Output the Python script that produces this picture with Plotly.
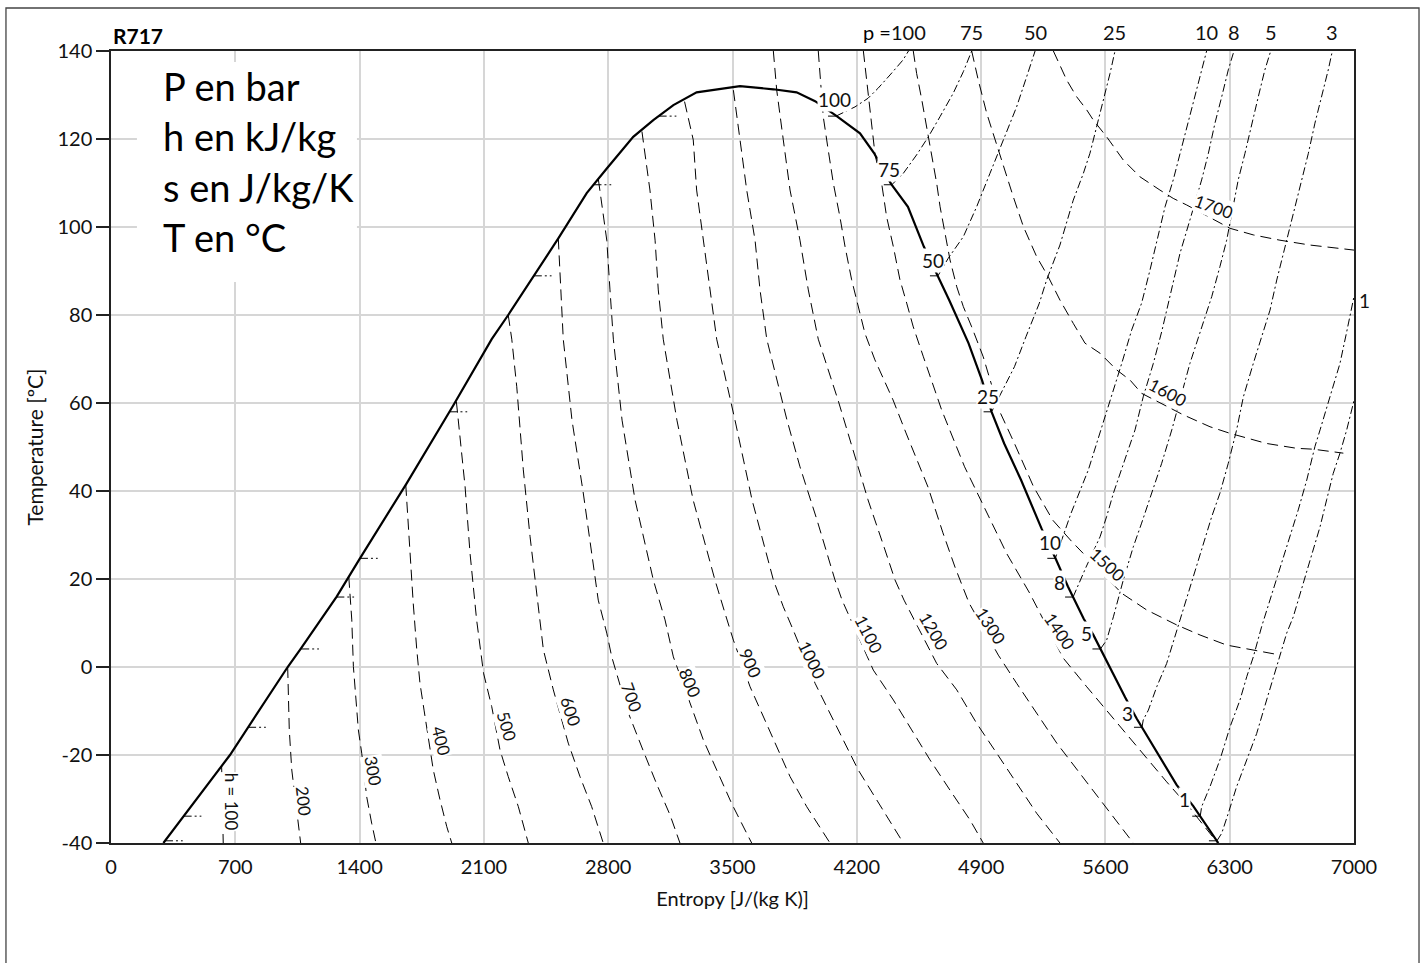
import plotly.graph_objects as go

# ---------------- data (s in J/(kg K), T in °C) ----------------
SAT_LIQ_S = [295, 670, 995, 1070, 1271, 1402, 1665, 1928, 2144, 2237, 2519, 2679, 2792, 2941, 3054, 3167, 3298, 3542]
SAT_LIQ_T = [-40, -20, 0, 4.25, 16.0, 24.7, 41.75, 59.5, 74.5, 80, 97.4, 107.7, 113.3, 120.5, 124.3, 127.7, 130.6, 132.0]
SAT_VAP_S = [3542, 3730, 3861, 3965, 4083, 4218, 4297, 4393, 4488, 4578, 4657, 4720, 4829, 4905, 4959, 5030, 5125,
             5240, 5320, 5389, 5477, 5532, 5711, 5776, 6001, 6095, 6236]
SAT_VAP_T = [132.0, 131.3, 130.6, 128.6, 125.3, 121.3, 116.8, 109.8, 104.6, 95.5, 88.9, 83.4, 73.6, 65.2, 58.0, 50.8, 42.5,
             31.5, 24.6, 18.3, 11.0, 7.3, -6.9, -11.7, -26.8, -31.6, -40]

# isenthalps, h in kJ/kg
H_VALUES = [100, 200, 300, 400, 500, 600, 700, 800, 900, 1000, 1100, 1200, 1300, 1400, 1500, 1600, 1700]
H100_S = [623, 628, 632]
H100_T = [-22.5, -31, -40]
H200_S = [995, 1004, 1018, 1055, 1068]
H200_T = [0, -14.3, -23.4, -35.5, -40]
H300_S = [1339, 1356, 1365, 1393, 1412, 1440, 1468, 1492]
H300_T = [20.5, 10.7, 0.1, -14.3, -19.6, -29.5, -35.5, -40]
H400_S = [1660, 1684, 1702, 1722, 1740, 1763, 1815, 1853, 1891, 1919]
H400_T = [41.4, 25.8, 14.5, 3.9, -3.7, -9.8, -23.4, -30.2, -36.3, -40]
H500_S = [1945, 1994, 2022, 2059, 2098, 2144, 2191, 2237, 2294, 2350]
H500_T = [60.3, 41.0, 25.8, 10.7, -1.4, -9.0, -18.9, -24.9, -31.75, -40]
H600_S = [2237, 2257, 2285, 2322, 2360, 2406, 2435, 2491, 2575, 2641, 2707, 2772]
H600_T = [80, 74.5, 63.7, 44.8, 29.6, 14.5, 3.9, -5.2, -17.3, -24.9, -31.75, -40]
H700_S = [2519, 2532, 2547, 2596, 2658, 2744, 2792, 2820, 2911, 2996, 3075, 3148, 3204]
H700_T = [97.4, 85.7, 74.5, 56.1, 40.0, 15.2, 7.7, 2.3, -10.2, -18.9, -26.8, -33.6, -40]
H800_S = [2745, 2792, 2810, 2829, 2878, 2951, 3054, 3120, 3167, 3261, 3336, 3411, 3495, 3580, 3608]
H800_T = [110.7, 97.0, 85.7, 74.5, 56.1, 38.0, 19.8, 10.7, 2.3, -8.25, -16.6, -23.4, -31.0, -37.8, -40]
H900_S = [2990, 3035, 3064, 3082, 3110, 3187, 3278, 3401, 3458, 3505, 3599, 3674, 3749, 3824, 3918, 4002, 4049]
H900_T = [121.7, 108.4, 97.0, 85.7, 74.5, 56.1, 38.0, 19.8, 12.2, 6.1, -4.5, -11.3, -18.1, -24.9, -31.75, -37.05, -40]
H1000_S = [3230, 3279, 3298, 3336, 3373, 3411, 3514, 3610, 3730, 3786, 3842, 3965, 4040, 4124, 4208, 4312, 4406, 4462]
H1000_T = [128.5, 119.8, 108.4, 97.0, 85.7, 74.5, 56.1, 38.0, 19.8, 13.7, 8.4, -3.7, -9.8, -16.6, -23.4, -30.2, -36.3, -40]
H1100_S = [3505, 3542, 3580, 3627, 3655, 3693, 3807, 3880, 3976, 4077, 4117, 4293, 4406, 4509, 4612, 4725, 4838, 4912]
H1100_T = [131.1, 119.8, 108.4, 97.0, 85.7, 74.5, 56.1, 45.5, 33.4, 19.8, 15.2, -0.7, -7.5, -14.3, -21.1, -28.0, -34.8, -40]
H1200_S = [3730, 3749, 3786, 3824, 3880, 3927, 3983, 4094, 4179, 4263, 4359, 4415, 4466, 4650, 4763, 4875, 4988, 5100,
           5213, 5344]
H1200_T = [140, 131.1, 119.8, 108.4, 97.0, 85.7, 74.5, 60.7, 49.3, 38.0, 26.6, 19.8, 15.2, 0.8, -5.2, -12.8, -19.6, -26.4,
           -33.25, -40]
H1300_S = [3983, 3993, 4011, 4039, 4068, 4105, 4134, 4171, 4208, 4246, 4302, 4404, 4477, 4601, 4685, 4753, 4832, 4997,
           5100, 5213, 5326, 5457, 5588, 5757]
H1300_T = [140, 134.9, 125.1, 117.5, 109.9, 102.3, 95.5, 88.0, 81.9, 75.8, 69.8, 60.7, 53.2, 40.9, 30.5, 22.7, 14.55, 2.7,
           -3.7, -10.5, -17.3, -24.2, -31.0, -40]
H1400_S = [4237, 4256, 4284, 4303, 4340, 4368, 4406, 4443, 4481, 4518, 4575, 4678, 4807, 4937, 5044, 5174, 5363, 5495,
           5645, 5795, 5945, 6076, 6232]
H1400_T = [140, 133.4, 123.6, 116.4, 109.9, 102.3, 95.5, 88.0, 82.7, 77.3, 70.5, 58.4, 45.5, 34.9, 25.8, 16.75, 2.0, -4.5,
           -11.7, -18.9, -26.1, -32.1, -40]
H1500_S = [4518, 4537, 4566, 4594, 4622, 4650, 4669, 4697, 4725, 4763, 4800, 4847, 4884, 4912, 4960, 5001, 5088, 5195,
           5303, 5411, 5692, 5833, 6002, 6133, 6283, 6433, 6583]
H1500_T = [140, 134.9, 128.9, 122.8, 116.0, 109.9, 104.6, 98.6, 92.5, 86.4, 81.9, 77.3, 73.6, 70.5, 64.0, 58.4, 50.8, 41.0,
           33.4, 28.5, 16.75, 12.95, 9.55, 7.27, 4.98, 3.86, 2.73]
H1600_S = [4847, 4884, 4932, 4978, 5025, 5081, 5138, 5213, 5278, 5344, 5419, 5485, 5570, 5664, 5739, 5804, 6039, 6189,
           6302, 6508, 6677, 6771, 6940]
H1600_T = [140, 133.4, 125.8, 119.8, 113.7, 106.9, 100.1, 93.25, 88.7, 83.4, 78.1, 73.6, 71.3, 67.5, 65.2, 62.2, 57.3, 54.6,
           53.1, 50.8, 49.7, 49.5, 48.6]
H1700_S = [5307, 5382, 5438, 5495, 5532, 5607, 5701, 5795, 5907, 5982, 6058, 6302, 6433, 6583, 6752, 6903, 7000]
H1700_T = [140, 133.4, 129.6, 126.6, 124.3, 120.5, 115.2, 111.4, 108.4, 106.5, 105.0, 99.7, 98.2, 97.0, 95.9, 95.2, 94.75]

# isobars, p in bar (the last one is unlabeled)
P_VALUES = [100, 75, 50, 25, 10, 8, 5, 3, 1, 0.7]
P_TSAT = [125.2, 109.6, 88.9, 58.0, 24.7, 15.9, 4.1, -13.7, -33.9, -39.5]
P_SLIQ = [3084, 2717, 2381, 1906, 1402, 1269, 1071, 772, 409, 304]
P_SVAP = [4083, 4397, 4657, 4959, 5318, 5418, 5572, 5806, 6134, 6228]
P100_S = [4083, 4190, 4263, 4319, 4387, 4460, 4491]
P100_T = [125.2, 127.3, 129.25, 131.5, 134.55, 137.95, 140]
P75_S = [4397, 4462, 4537, 4603, 4669, 4743, 4800, 4847]
P75_T = [109.6, 112.2, 116.4, 120.5, 125.1, 130.4, 135.3, 140]
P50_S = [4657, 4715, 4800, 4875, 4950, 5025, 5100, 5157, 5204]
P50_T = [88.9, 92.9, 97.8, 104.6, 112.2, 119.8, 127.3, 134.2, 140]
P25_S = [4959, 5023, 5088, 5153, 5228, 5269, 5344, 5419, 5476, 5513, 5551, 5588, 5626, 5654]
P25_T = [58.0, 62.95, 68.25, 75.1, 82.7, 87.95, 95.9, 106.1, 112.2, 116.75, 122.8, 128.9, 134.9, 140]
P10_S = [5318, 5368, 5406, 5504, 5570, 5635, 5692, 5748, 5804, 5851, 5898, 5936, 5982, 6020, 6067, 6105, 6142, 6170]
P10_T = [24.7, 30.4, 34.9, 44.8, 53.1, 61.4, 69.0, 76.6, 82.7, 90.2, 97.8, 104.6, 110.7, 116.75, 123.6, 129.6, 135.7, 140]
P8_S = [5418, 5491, 5570, 5607, 5645, 5701, 5767, 5813, 5870, 5917, 5974, 6020, 6076, 6142, 6180, 6217, 6255, 6292, 6324]
P8_T = [15.9, 22.7, 29.6, 34.2, 39.5, 46.3, 53.9, 61.4, 69.0, 76.2, 86.4, 94.0, 101.6, 110.7, 116.75, 123.6, 129.6, 135.7,
        140]
P5_S = [5572, 5607, 5645, 5701, 5757, 5804, 5917, 5974, 6076, 6133, 6199, 6245, 6283, 6330, 6348, 6386, 6424, 6461, 6498,
        6531]
P5_T = [4.1, 6.1, 11.4, 19.8, 27.3, 32.7, 46.3, 53.9, 69.0, 76.2, 84.2, 91.0, 97.0, 106.9, 110.7, 116.75, 123.6, 129.6,
        135.7, 140]
P3_S = [5806, 5813, 5842, 5889, 5945, 6002, 6048, 6105, 6151, 6199, 6245, 6292, 6339, 6377, 6433, 6489, 6527, 6565, 6602,
        6640, 6668, 6705, 6743, 6780, 6818, 6855, 6878]
P3_T = [-13.7, -12.05, -9.8, -4.5, 0.8, 8.4, 14.1, 22.05, 28.1, 34.2, 39.5, 46.3, 53.9, 61.4, 69.0, 76.2, 81.1, 87.95,
        94.0, 100.1, 104.6, 110.7, 116.75, 123.6, 129.6, 135.7, 140]
P1_S = [6134, 6142, 6189, 6245, 6302, 6358, 6396, 6433, 6480, 6527, 6593, 6640, 6686, 6734, 6780, 6809, 6865, 6921, 6959,
        6996, 7000]
P1_T = [-33.9, -31.75, -27.2, -21.1, -13.6, -7.5, -2.2, 2.3, 9.2, 15.2, 23.6, 29.6, 35.7, 42.5, 50.1, 53.9, 61.4, 69.0,
        76.2, 83.4, 84.2]
P07_S = [6228, 6255, 6292, 6339, 6396, 6452, 6508, 6565, 6621, 6658, 6714, 6771, 6809, 6846, 6883, 6921, 6959, 6996, 7000]
P07_T = [-39.5, -37.8, -33.25, -27.2, -21.1, -15.1, -7.5, 0.07, 7.7, 11.4, 19.0, 26.6, 31.9, 38.0, 44.0, 48.6, 53.9, 59.9,
         60.6]

X_TICKS = [0, 700, 1400, 2100, 2800, 3500, 4200, 4900, 5600, 6300, 7000]
Y_TICKS = [-40, -20, 0, 20, 40, 60, 80, 100, 120, 140]

# label placements (data coordinates) and angles
H_LABEL_S = [679, 1087, 1475, 1858, 2230, 2590, 2934, 3263, 3601, 3950, 4269, 4635, 4958, 5344, 5612, 5953, 6209]
H_LABEL_T = [-30.5, -30.5, -23.6, -16.8, -13.5, -10.1, -6.9, -3.7, 0.7, 1.5, 7.4, 8.1, 9.3, 8.1, 23.4, 62.4, 104.7]
H_LABEL_ANGLE = [90, 84, 80, 76, 74, 72, 70, 67, 66, 64, 63, 60, 57, 56, 43, 28, 20]
SAT_LABEL_S = [4077, 4381, 4629, 4939, 5288, 5344, 5491, 5727, 6048]
SAT_LABEL_T = [128.9, 113.0, 92.3, 61.4, 28.2, 19.3, 7.7, -10.5, -30.2]

# ---------------- figure ----------------
FONT = "Lato, 'Open Sans', sans-serif"
DASH_H = "11px,6px"
DASH_P = "8px,3px,2px,3px"

H_LINES = [(H100_S, H100_T), (H200_S, H200_T), (H300_S, H300_T), (H400_S, H400_T), (H500_S, H500_T),
           (H600_S, H600_T), (H700_S, H700_T), (H800_S, H800_T), (H900_S, H900_T), (H1000_S, H1000_T),
           (H1100_S, H1100_T), (H1200_S, H1200_T), (H1300_S, H1300_T), (H1400_S, H1400_T), (H1500_S, H1500_T),
           (H1600_S, H1600_T), (H1700_S, H1700_T)]
P_LINES = [(P100_S, P100_T), (P75_S, P75_T), (P50_S, P50_T), (P25_S, P25_T), (P10_S, P10_T), (P8_S, P8_T),
           (P5_S, P5_T), (P3_S, P3_T), (P1_S, P1_T), (P07_S, P07_T)]

fig = go.Figure()

for (s_list, t_list), h in zip(H_LINES, H_VALUES):
    fig.add_trace(go.Scatter(x=s_list, y=t_list, mode="lines", name=f"h={h}",
                             line=dict(color="black", width=1, dash=DASH_H),
                             hoverinfo="skip", showlegend=False))

LIQ_STUB = 100
VAP_STUB = 60
for (s_list, t_list), p, ts, sl, sv in zip(P_LINES, P_VALUES, P_TSAT, P_SLIQ, P_SVAP):
    fig.add_trace(go.Scatter(x=s_list, y=t_list, mode="lines", name=f"p={p}",
                             line=dict(color="black", width=1, dash=DASH_P),
                             hoverinfo="skip", showlegend=False))
    fig.add_trace(go.Scatter(x=[sl, sl + LIQ_STUB], y=[ts, ts], mode="lines",
                             line=dict(color="black", width=1, dash=DASH_P),
                             hoverinfo="skip", showlegend=False))
    fig.add_trace(go.Scatter(x=[sv, sv - VAP_STUB], y=[ts, ts], mode="lines",
                             line=dict(color="black", width=1, dash=DASH_P),
                             hoverinfo="skip", showlegend=False))

fig.add_trace(go.Scatter(x=SAT_LIQ_S + SAT_VAP_S[1:], y=SAT_LIQ_T + SAT_VAP_T[1:], mode="lines",
                         name="saturation", line=dict(color="black", width=2.2),
                         hoverinfo="skip", showlegend=False))

ann = []
for h, x, y, a in zip(H_VALUES, H_LABEL_S, H_LABEL_T, H_LABEL_ANGLE):
    txt = "h = 100" if h == 100 else str(h)
    ann.append(dict(x=x, y=y, xref="x", yref="y", text=txt, showarrow=False, textangle=a,
                    font=dict(size=17, color="#111"), bgcolor="white", borderpad=0))

for p, x, y in zip(P_VALUES[:-1], SAT_LABEL_S, SAT_LABEL_T):
    ann.append(dict(x=x, y=y, xref="x", yref="y", text=str(p), showarrow=False,
                    font=dict(size=19, color="#111"), bgcolor="white", borderpad=0))

for (s_list, t_list), p in zip(P_LINES[:-2], P_VALUES[:-2]):
    ann.append(dict(x=s_list[-1], y=140, xref="x", yref="y", text=str(p), showarrow=False,
                    yanchor="middle", yshift=19, font=dict(size=20, color="#111")))
ann.append(dict(x=4405, y=140, xref="x", yref="y", text="p =", showarrow=False, xanchor="right",
                yanchor="middle", yshift=19, font=dict(size=20, color="#000")))
ann.append(dict(x=7000, y=P1_T[-2], xref="x", yref="y", text="1", showarrow=False, xanchor="left",
                xshift=3, font=dict(size=19, color="#111")))

ann.append(dict(x=0, y=1, xref="paper", yref="paper", text="<b>R717</b>", showarrow=False,
                xanchor="left", yanchor="bottom", yshift=1, font=dict(size=21, color="#000")))

BLOCK = ["P en bar", "h en kJ/kg", "s en J/kg/K", "T en °C"]
BLOCK_T = [132.1, 120.6, 109.2, 97.7]
for txt, y in zip(BLOCK, BLOCK_T):
    ann.append(dict(x=280, y=y, xref="x", yref="y", text=txt, showarrow=False, xanchor="left",
                    yanchor="middle", font=dict(size=38, color="#000")))

shapes = [
    dict(type="rect", xref="x", yref="y", x0=146, x1=1385, y0=87.5, y1=137.5,
         fillcolor="white", line=dict(width=0), layer="between"),
    dict(type="rect", xref="paper", yref="paper", x0=-0.0845, x1=1.0523, y0=-0.17, y1=1.0543,
         line=dict(color="#444", width=1.3), fillcolor="rgba(0,0,0,0)", layer="above"),
]

fig.update_layout(
    width=1427, height=963,
    margin=dict(l=111, r=73, t=51, b=120, pad=0),
    paper_bgcolor="white", plot_bgcolor="white",
    font=dict(family=FONT, color="#111", size=17),
    showlegend=False,
    annotations=ann, shapes=shapes,
    xaxis=dict(range=[0, 7000], tickmode="array", tickvals=X_TICKS, ticktext=[str(v) for v in X_TICKS],
               showgrid=True, gridcolor="#d6d6d6", gridwidth=1.5, zeroline=False,
               showline=True, linecolor="#222", linewidth=1.5, mirror=True, ticks="",
               ticklabelstandoff=5, tickfont=dict(size=20, color="#111"), automargin=False,
               title=dict(text="Entropy [J/(kg K)]", font=dict(size=20, color="#111"), standoff=15)),
    yaxis=dict(range=[-40, 140], tickmode="array", tickvals=Y_TICKS, ticktext=[str(v) for v in Y_TICKS],
               showgrid=True, gridcolor="#d6d6d6", gridwidth=1.5, zeroline=False,
               showline=True, linecolor="#222", linewidth=1.5, mirror=True, ticks="outside",
               ticklen=13, tickwidth=1.5, tickcolor="#222", ticklabelstandoff=0,
               tickfont=dict(size=20, color="#111"), automargin=False,
               title=dict(text="Temperature [ºC]", font=dict(size=21, color="#111"), standoff=8)),
)

fig.write_html("out.html", config={"displayModeBar": False},
               post_script="document.body.style.margin='0';")
